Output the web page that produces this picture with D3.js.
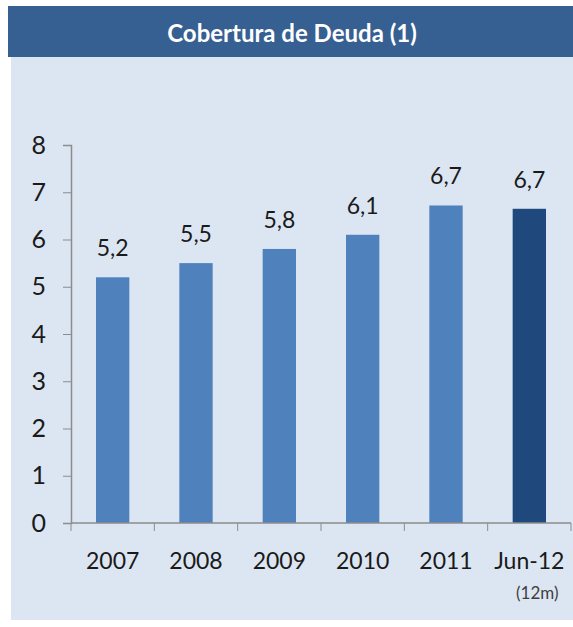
<!DOCTYPE html>
<html>
<head>
<meta charset="utf-8">
<script src="https://cdn.jsdelivr.net/npm/d3@7"></script>
<style>
  body { margin: 0; background: #fff; }
  svg { display: block; }
</style>
</head>
<body>
<svg width="573" height="627"></svg>
<script>
// chart data
const categories = ['2007', '2008', '2009', '2010', '2011', 'Jun-12'];
const values = [5.2, 5.5, 5.8, 6.1, 6.72, 6.65];
const valueLabels = ['5,2', '5,5', '5,8', '6,1', '6,7', '6,7'];
const yTicks = [0, 1, 2, 3, 4, 5, 6, 7, 8];
const title = 'Cobertura de Deuda (1)';
const subLabel = '(12m)';

const svg = d3.select('svg');
const font = 'Lato, "Open Sans", sans-serif';

// background panel + header band
svg.append('rect').attr('x', 11).attr('y', 57).attr('width', 562).attr('height', 563).attr('fill', '#dce6f2');
svg.append('rect').attr('x', 8).attr('y', 6).attr('width', 565).attr('height', 51).attr('fill', '#376092');
svg.append('text')
  .attr('x', 292).attr('y', 32)
  .attr('text-anchor', 'middle').attr('dominant-baseline', 'central')
  .style('font-family', font).style('font-weight', 700).style('font-size', '24px')
  .attr('fill', '#fff')
  .text(title);

const margin = { left: 71, right: 2, top: 145, bottom: 104 };
const width = 573 - margin.left - margin.right;
const height = 627 - margin.top - margin.bottom;

const g = svg.append('g').attr('transform', `translate(${margin.left},${margin.top})`);

const x = d3.scaleBand()
  .domain(categories)
  .range([0, width])
  .paddingInner(0.6)
  .paddingOuter(0.3);

const y = d3.scaleLinear().domain([0, 8]).range([height, 0]);

// bars
g.selectAll('rect.bar')
  .data(categories)
  .enter().append('rect')
  .attr('class', 'bar')
  .attr('x', d => x(d))
  .attr('width', x.bandwidth())
  .attr('y', (d, i) => y(values[i]))
  .attr('height', (d, i) => height - y(values[i]))
  .attr('fill', (d, i) => i === categories.length - 1 ? '#1f497d' : '#4f81bd');

// value labels
g.selectAll('text.val')
  .data(categories)
  .enter().append('text')
  .attr('class', 'val')
  .attr('x', d => x(d) + x.bandwidth() / 2)
  .attr('y', (d, i) => y(values[i]) - 21)
  .attr('text-anchor', 'middle')
  .style('font-family', font).style('font-size', '23px')
  .attr('fill', '#1a1a1a')
  .text((d, i) => valueLabels[i]);

// y axis
const yAxis = g.append('g')
  .call(d3.axisLeft(y).tickValues(yTicks).tickSize(8).tickPadding(17).tickFormat(d3.format('d')));
yAxis.select('.domain').attr('stroke', '#8c8c8c').attr('stroke-width', 1.5);
yAxis.selectAll('.tick line').attr('stroke', '#8c8c8c');
yAxis.selectAll('.tick text')
  .style('font-family', font).style('font-size', '25px').attr('fill', '#1a1a1a');

// x axis with ticks between categories
const step = x.step();
const xAxis = g.append('g').attr('transform', `translate(0,${height})`);
xAxis.append('line').attr('x1', 0).attr('x2', width).attr('stroke', '#8c8c8c').attr('stroke-width', 1.5);
xAxis.selectAll('line.tk')
  .data(d3.range(categories.length + 1))
  .enter().append('line')
  .attr('class', 'tk')
  .attr('x1', i => i * step).attr('x2', i => i * step)
  .attr('y1', 0).attr('y2', 8)
  .attr('stroke', '#8c8c8c');
xAxis.selectAll('text.cat')
  .data(categories)
  .enter().append('text')
  .attr('class', 'cat')
  .attr('x', d => x(d) + x.bandwidth() / 2)
  .attr('y', 46)
  .attr('text-anchor', 'middle')
  .style('font-family', font).style('font-size', '23px')
  .attr('fill', '#1a1a1a')
  .text(d => d);
xAxis.append('text')
  .attr('x', x(categories[categories.length - 1]) + x.bandwidth() / 2 + 8)
  .attr('y', 76)
  .attr('text-anchor', 'middle')
  .style('font-family', font).style('font-size', '17px')
  .attr('fill', '#404040')
  .text(subLabel);
</script>
</body>
</html>
